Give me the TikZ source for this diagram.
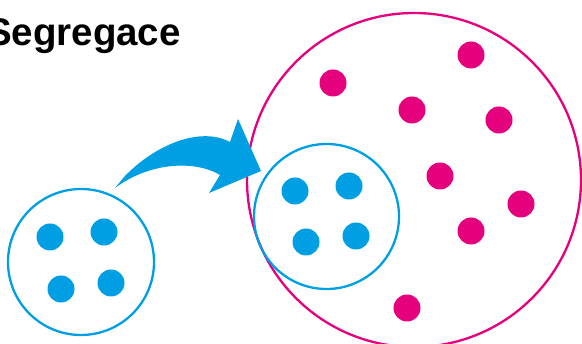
\documentclass[tikz,border=0pt]{standalone}
\usepackage{fontspec}
\setmainfont{Liberation Sans}
\usepackage{tikz}
\definecolor{cellblue}{HTML}{009FE3}
\definecolor{soupmag}{HTML}{E5007E}

\begin{document}
\begin{tikzpicture}[
        x=1pt,y=-1pt,
        inner sep=0pt,
        ring/.style={circle,draw,line width=2.3pt},
        blob/.style={circle,fill,minimum size=27pt}
      ]
      \useasboundingbox (0,0) rectangle (582,344);
      \node (title) [anchor=base east,font=\fontsize{38.5}{42}\selectfont\bfseries] at (181,46) {Segregace};
      \node (soup) [ring,soupmag,minimum size=334pt] at (414,180) {};
      \node (cell) [ring,cellblue,minimum size=146pt] at (81,262) {};
      \node (inner) [ring,cellblue,minimum size=145pt] at (326.5,216.5) {};
      \foreach \x/\y [count=\i] in {50/237,104/232,61/289,111/283}
        \node (a\i) [blob,cellblue] at (\x,\y) {};
      \foreach \x/\y [count=\i] in {295/191,349/186,306/242,356/236}
        \node (b\i) [blob,cellblue] at (\x,\y) {};
      \foreach \x/\y [count=\i] in {333/83,471/55,412/110,499/120,440/176,521/204,471/231,407/308}
        \node (p\i) [blob,soupmag] at (\x,\y) {};
      \fill[cellblue] (115,188) -- (125,176) .. controls (155,145) and (200,126) .. (230,142)
        -- (238,119) -- (261,171) -- (209,193) -- (220,175)
        .. controls (195,160) and (150,162) .. (115,188) -- cycle;
    \end{tikzpicture}
\end{document}
